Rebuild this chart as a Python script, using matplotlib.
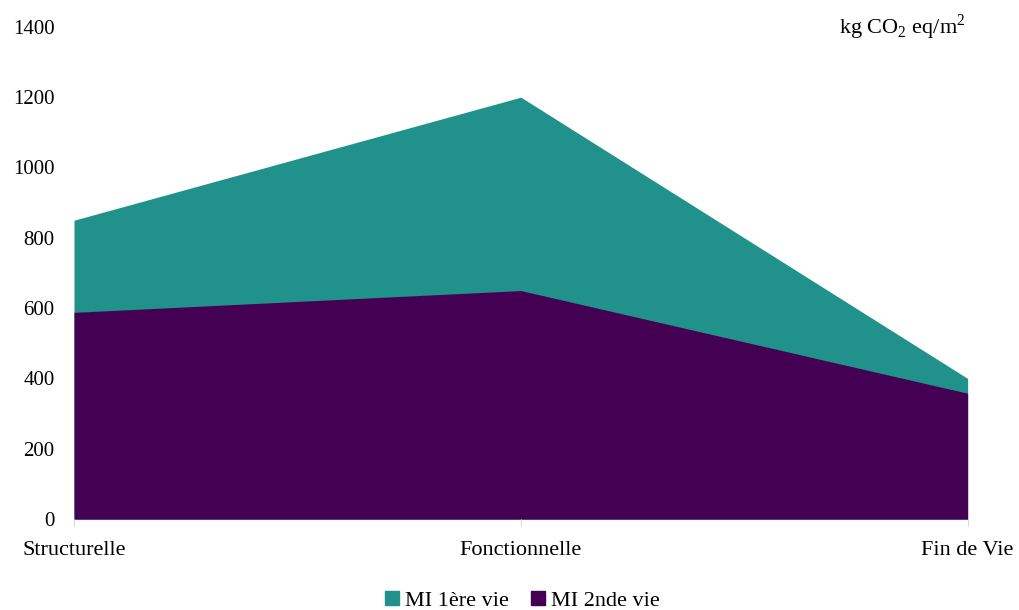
import matplotlib
matplotlib.use("Agg")
import matplotlib.pyplot as plt
from matplotlib.patches import Patch

categories = ["Structurelle", "Fonctionnelle", "Fin de Vie"]
mi_1ere_vie = [850, 1200, 400]
mi_2nde_vie = [588, 650, 358]
yticks = [0, 200, 400, 600, 800, 1000, 1200, 1400]

teal = "#21918c"
purple = "#440154"

plt.rcParams['font.family'] = ['Liberation Serif', 'DejaVu Serif']
plt.rcParams['mathtext.fontset'] = 'custom'
plt.rcParams['mathtext.rm'] = 'Liberation Serif'

fig = plt.figure(figsize=(10.19, 6.1), dpi=100)
ax = fig.add_axes([0.0726, 0.149, 0.877, 0.807])

x = list(range(len(categories)))
ax.fill_between(x, 0, mi_1ere_vie, color=teal, linewidth=0, label="MI 1ère vie")
ax.fill_between(x, 0, mi_2nde_vie, color=purple, linewidth=0, label="MI 2nde vie")

ax.set_xlim(0, 2)
ax.set_ylim(0, 1400)
ax.set_yticks(yticks)
ax.set_yticklabels([str(v) for v in yticks], fontsize=15)
ax.set_xticks(x)
ax.set_xticklabels(categories, fontsize=16)
ax.tick_params(axis='y', length=0, pad=14)
ax.tick_params(axis='x', length=5, color='#d9d9d9', pad=11)
for s in ['top', 'right', 'left']:
    ax.spines[s].set_visible(False)
ax.spines['bottom'].set_color('#d9d9d9')
ax.spines['bottom'].set_zorder(0)

ax.text(0.997, 1.0, r"kg CO$_2$ eq/m$^2$", transform=ax.transAxes, ha='right', va='center', fontsize=16)

handles = [Patch(color=teal, label="MI 1ère vie"), Patch(color=purple, label="MI 2nde vie")]
fig.legend(handles=handles, loc='center', bbox_to_anchor=(0.513, 0.015), ncol=2, frameon=False,
           fontsize=16, handlelength=0.6, handleheight=0.6, handletextpad=0.3, columnspacing=1.0)

fig.savefig("out.png", dpi=100)
